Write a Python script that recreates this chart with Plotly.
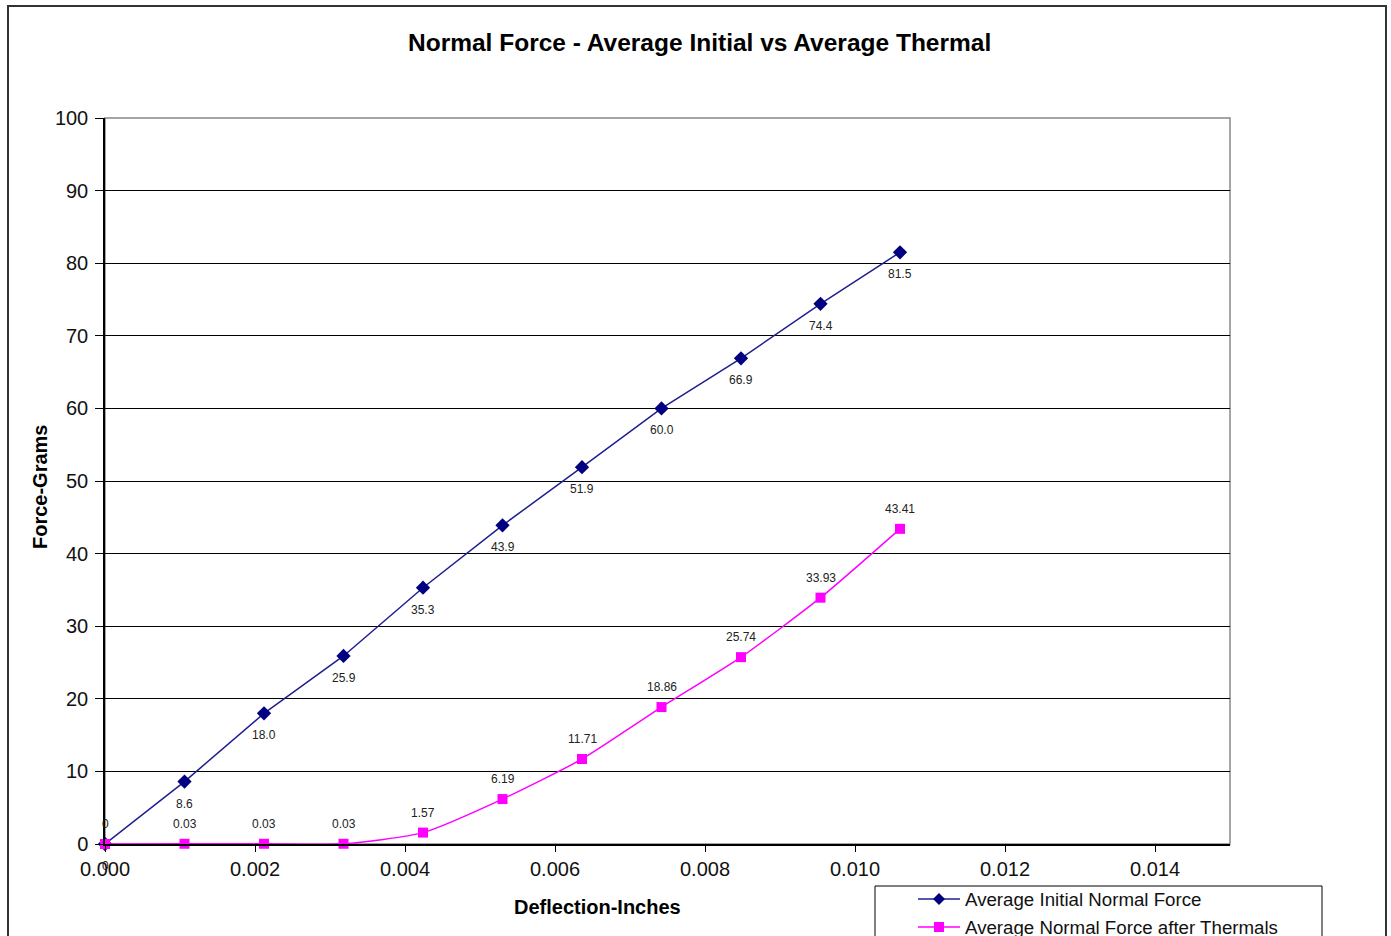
import plotly.graph_objects as go

# Deflection (inches) and measured normal force (grams)
deflection = [0.0, 0.00106, 0.00212, 0.00318, 0.00424, 0.0053, 0.00636, 0.00742, 0.00848, 0.00954, 0.0106]
initial_force = [0, 8.6, 18.0, 25.9, 35.3, 43.9, 51.9, 60.0, 66.9, 74.4, 81.5]
initial_labels = ["0", "8.6", "18.0", "25.9", "35.3", "43.9", "51.9", "60.0", "66.9", "74.4", "81.5"]
thermal_force = [0, 0.03, 0.03, 0.03, 1.57, 6.19, 11.71, 18.86, 25.74, 33.93, 43.41]
thermal_labels = ["0", "0.03", "0.03", "0.03", "1.57", "6.19", "11.71", "18.86", "25.74", "33.93", "43.41"]
series_names = ["Average Initial Normal Force", "Average Normal Force after Thermals"]

x_ticks = [0.0, 0.002, 0.004, 0.006, 0.008, 0.010, 0.012, 0.014]
y_ticks = list(range(0, 101, 10))

FONT = "Liberation Sans, Arial, sans-serif"
W, H = 1391, 936
L, R, T, B = 105, 161, 118, 92
PW, PH = W - L - R, H - T - B

INIT_LINE, INIT_MARK = "#1f1f8f", "#000080"
THERM = "#ff00ff"


def px(xp):
    """Horizontal pixel position -> paper coordinate."""
    return (xp - L) / PW


def py(yp):
    """Vertical pixel position (from top) -> paper coordinate."""
    return (H - B - yp) / PH


fig = go.Figure()

fig.add_trace(go.Scatter(
    x=deflection, y=initial_force, mode="lines+markers",
    name=series_names[0],
    line=dict(color=INIT_LINE, width=1.5),
    marker=dict(symbol="diamond", size=11, color=INIT_MARK),
    cliponaxis=False,
))
fig.add_trace(go.Scatter(
    x=deflection, y=thermal_force, mode="lines+markers",
    name=series_names[1],
    line=dict(color=THERM, width=1.5, shape="spline", smoothing=0.6),
    marker=dict(symbol="square", size=10, color=THERM),
    cliponaxis=False,
))

annotations = []
for x, y, t in zip(deflection, initial_force, initial_labels):
    annotations.append(dict(x=x, y=y, xref="x", yref="y", text=t, showarrow=False,
                            yshift=-22, font=dict(family=FONT, size=12, color="#222")))
for x, y, t in zip(deflection, thermal_force, thermal_labels):
    annotations.append(dict(x=x, y=y, xref="x", yref="y", text=t, showarrow=False,
                            yshift=20, font=dict(family=FONT, size=12, color="#222")))

# Chart title and axis titles
annotations.append(dict(x=px(699), y=py(42), xref="paper", yref="paper",
                        xanchor="center", yanchor="middle",
                        text="<b>Normal Force - Average Initial vs Average Thermal</b>",
                        showarrow=False, font=dict(family=FONT, size=24.5, color="#000")))
annotations.append(dict(x=px(597), y=py(907), xref="paper", yref="paper",
                        xanchor="center", yanchor="middle",
                        text="<b>Deflection-Inches</b>", showarrow=False,
                        font=dict(family=FONT, size=20, color="#000")))
annotations.append(dict(x=px(40), y=py(487), xref="paper", yref="paper",
                        xanchor="center", yanchor="middle",
                        text="<b>Force-Grams</b>", showarrow=False, textangle=-90,
                        font=dict(family=FONT, size=20, color="#000")))

shapes = [
    # outer chart frame
    dict(type="rect", xref="paper", yref="paper",
         x0=px(8), x1=px(1386), y0=py(980), y1=py(6),
         line=dict(color="#333", width=2), layer="below"),
    # plot-area frame
    dict(type="rect", xref="paper", yref="paper", x0=0, x1=1, y0=0, y1=1,
         line=dict(color="#888", width=1.5), layer="below"),
    # legend box
    dict(type="rect", xref="paper", yref="paper",
         x0=px(875), x1=px(1322), y0=py(980), y1=py(886),
         line=dict(color="#000", width=1), fillcolor="white", layer="above"),
]

# Legend entries: sample line, marker and series name
legend_rows = [899, 927]
for name, row, color, mark in zip(series_names, legend_rows,
                                  [INIT_LINE, THERM], ["diamond", "square"]):
    shapes.append(dict(type="line", xref="paper", yref="paper",
                       x0=px(918), x1=px(960), y0=py(row), y1=py(row),
                       line=dict(color=color, width=1.5), layer="above"))
    cx, cy = 939, row
    if mark == "diamond":
        path = (f"M {px(cx - 6)} {py(cy)} L {px(cx)} {py(cy - 6)} "
                f"L {px(cx + 6)} {py(cy)} L {px(cx)} {py(cy + 6)} Z")
        shapes.append(dict(type="path", xref="paper", yref="paper", path=path,
                           fillcolor=INIT_MARK, line=dict(color=INIT_MARK, width=0),
                           layer="above"))
    else:
        shapes.append(dict(type="rect", xref="paper", yref="paper",
                           x0=px(cx - 5), x1=px(cx + 5), y0=py(cy + 5), y1=py(cy - 5),
                           fillcolor=THERM, line=dict(color=THERM, width=0),
                           layer="above"))
    annotations.append(dict(x=px(963), y=py(row), xref="paper", yref="paper",
                            xanchor="left", yanchor="middle", text=name, showarrow=False,
                            font=dict(family=FONT, size=18.7, color="#111")))

fig.update_layout(
    width=W, height=H,
    margin=dict(l=L, r=R, t=T, b=B, autoexpand=False),
    paper_bgcolor="white", plot_bgcolor="white",
    font=dict(family=FONT, color="#000"),
    showlegend=False,
    annotations=annotations,
    shapes=shapes,
)

fig.update_xaxes(
    range=[0, 0.015], tickvals=x_ticks, tickformat=".3f",
    showgrid=False, zeroline=False,
    showline=True, linecolor="#000", linewidth=1.5,
    ticks="outside", ticklen=6, tickcolor="#000",
    tickfont=dict(family=FONT, size=20, color="#111"),
)
fig.update_yaxes(
    range=[0, 100], tickvals=y_ticks,
    showgrid=True, gridcolor="#000", gridwidth=1.2, zeroline=False,
    showline=True, linecolor="#000", linewidth=1.5,
    ticks="outside", ticklen=8, tickcolor="#000", ticklabelstandoff=3,
    tickfont=dict(family=FONT, size=20, color="#111"),
)

fig.write_html("out.html")
